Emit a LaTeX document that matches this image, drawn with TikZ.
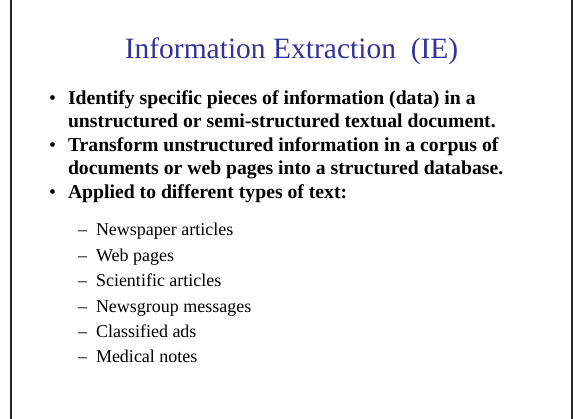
\documentclass[tikz,border=0pt]{standalone}
\usepackage{fontspec}
\setmainfont{Liberation Serif}
\definecolor{titleblue}{HTML}{333399}
\begin{document}
\begin{tikzpicture}[x=1pt,y=1pt,
  every node/.style={inner sep=0pt,outer sep=0pt},
  ttl/.style={anchor=base,text=titleblue,font=\fontsize{29.5}{29.5}\selectfont},
  dot/.style={anchor=base west,font=\fontsize{19.7}{19.7}\selectfont},
  bul/.style={anchor=base west,font=\fontsize{19.7}{19.7}\selectfont\bfseries},
  sub/.style={anchor=base west,font=\fontsize{18}{18}\selectfont}]
\useasboundingbox (0,0) rectangle (577,419);
\draw[line width=1.2pt,black!85] (11,430) rectangle (572,-10);
\node[ttl] (title) at (291.5,360) {Information Extraction\ \ (IE)};
% bullets
\node[dot] (b1) at (49,314) {•};
\node[bul] (t1) at (68,314) {Identify specific pieces of information (data) in a};
\node[bul] (t1b) at (68,291) {unstructured or semi-structured textual document.};
\node[dot] (b2) at (49,267) {•};
\node[bul] (t2) at (68,267) {Transform unstructured information in a corpus of};
\node[bul] (t2b) at (68,244) {documents or web pages into a structured database.};
\node[dot] (b3) at (49,220) {•};
\node[bul] (t3) at (68,220) {Applied to different types of text:};
% sub items
\foreach \txt [count=\i] in {Newspaper articles,Web pages,Scientific articles,Newsgroup messages,Classified ads,Medical notes}{
  \node[sub] (d\i) at (78,{183-25.4*(\i-1)}) {–};
  \node[sub] (s\i) at (96,{183-25.4*(\i-1)}) {\txt};
}
\end{tikzpicture}
\end{document}
